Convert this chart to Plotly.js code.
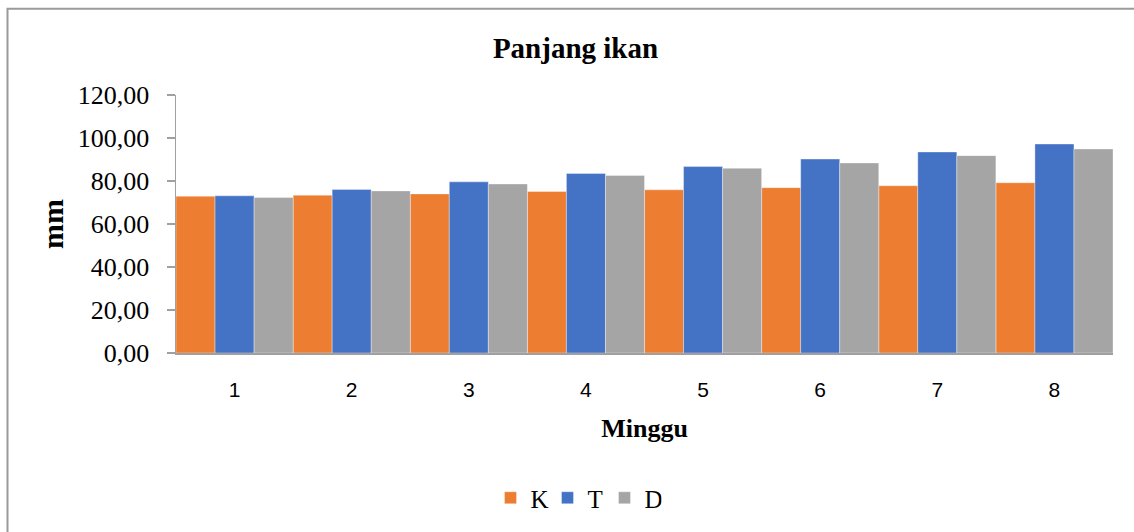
<!DOCTYPE html>
<html>
<head>
<meta charset="utf-8">
<script src="https://cdn.plot.ly/plotly-3.0.1.min.js"></script>
<style>
  html, body { margin: 0; padding: 0; background: #fff; }
  #chart { width: 1134px; height: 532px; }
</style>
</head>
<body>
<div id="chart"></div>
<script>
// Weekly fish length (mm) for the three treatments
const weeks = ['1', '2', '3', '4', '5', '6', '7', '8'];
const seriesK = [72.9, 73.4, 74.0, 75.1, 75.9, 76.9, 77.8, 79.2];
const seriesT = [73.1, 76.1, 79.6, 83.5, 86.7, 90.2, 93.5, 97.2];
const seriesD = [72.3, 75.4, 78.6, 82.6, 85.9, 88.4, 91.8, 94.9];
const yTicks = [0, 20, 40, 60, 80, 100, 120];

const serif = 'Liberation Serif, Times New Roman, serif';
const sans = 'Liberation Sans, Arial, sans-serif';

function barTrace(name, values, color) {
  return {
    type: 'bar',
    name: name,
    x: weeks,
    y: values,
    marker: { color: color, line: { color: 'rgba(255,255,255,0.6)', width: 0.6 } },
    hoverinfo: 'x+y+name'
  };
}

const data = [
  barTrace('K', seriesK, '#ED7D31'),
  barTrace('T', seriesT, '#4472C4'),
  barTrace('D', seriesD, '#A5A5A5')
];

// plot area spans x 176..1113, y 95..354 in page pixels
const L = 176, R = 1113, T = 95, B = 354;
const px = v => (v - L) / (R - L);
const py = v => (B - v) / (B - T);

const layout = {
  width: 1134,
  height: 532,
  margin: { l: L, r: 1134 - R, t: T, b: 532 - B },
  paper_bgcolor: '#fff',
  plot_bgcolor: '#fff',
  separators: ',.',
  barmode: 'group',
  bargap: 0,
  bargroupgap: 0,
  showlegend: true,
  title: {
    text: '<b>Panjang ikan</b>',
    font: { family: serif, size: 29, color: '#000' },
    x: 575.5 / 1134, xref: 'container', xanchor: 'center',
    y: 1 - 48 / 532, yref: 'container', yanchor: 'middle'
  },
  xaxis: {
    type: 'category',
    showgrid: false,
    zeroline: false,
    showline: true,
    linecolor: '#A0A0A0',
    linewidth: 1.5,
    ticks: '',
    tickfont: { family: sans, size: 21, color: '#000' },
    ticklabelstandoff: 17,
    title: {
      text: '<b>Minggu</b>',
      font: { family: serif, size: 26, color: '#000' },
      standoff: 19
    }
  },
  yaxis: {
    range: [0, 120],
    tickvals: yTicks,
    tickformat: '.2f',
    showgrid: false,
    zeroline: false,
    showline: true,
    linecolor: '#A0A0A0',
    linewidth: 1.5,
    ticks: 'outside',
    ticklen: 8,
    tickcolor: '#A0A0A0',
    tickwidth: 1.5,
    tickfont: { family: serif, size: 26, color: '#000' },
    ticklabelstandoff: 12,
    title: {
      text: '<b>mm</b>',
      font: { family: serif, size: 30, color: '#000' },
      standoff: 5
    }
  },
  legend: {
    orientation: 'h',
    x: px(576), xanchor: 'center',
    y: py(498), yanchor: 'middle',
    font: { family: serif, size: 25, color: '#000' },
    itemwidth: 30,
    entrywidth: 12,
    entrywidthmode: 'pixels',
    tracegroupgap: 0,
    traceorder: 'normal'
  },
  shapes: [{
    type: 'rect',
    xref: 'paper', yref: 'paper',
    x0: px(7.5), x1: px(1150),
    y0: py(560), y1: py(8.5),
    line: { color: '#9A9A9A', width: 2 },
    fillcolor: 'rgba(0,0,0,0)',
    layer: 'below'
  }]
};

Plotly.newPlot('chart', data, layout, { displayModeBar: false, staticPlot: true });
</script>
</body>
</html>
